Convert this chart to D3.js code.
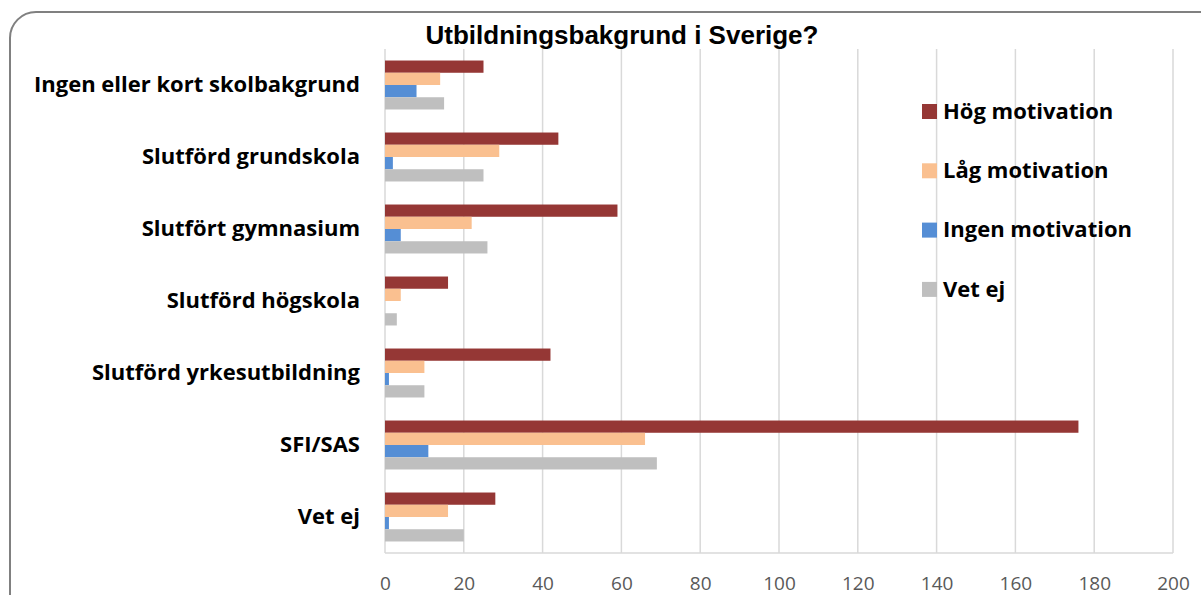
<!DOCTYPE html>
<html>
<head>
<meta charset="utf-8">
<script src="https://cdn.jsdelivr.net/npm/d3@7"></script>
<style>
  body { margin: 0; background: #fff; }
  svg { display: block; }
</style>
</head>
<body>
<div id="chart"></div>
<script>
var categories = ["Ingen eller kort skolbakgrund", "Slutförd grundskola", "Slutfört gymnasium",
  "Slutförd högskola", "Slutförd yrkesutbildning", "SFI/SAS", "Vet ej"];
var seriesNames = ["Hög motivation", "Låg motivation", "Ingen motivation", "Vet ej"];
var hog   = [25, 44, 59, 16, 42, 176, 28];
var lag   = [14, 29, 22, 4, 10, 66, 16];
var ingen = [8, 2, 4, 0, 1, 11, 1];
var vetej = [15, 25, 26, 3, 10, 69, 20];
var xTicks = [0, 20, 40, 60, 80, 100, 120, 140, 160, 180, 200];

var colors = ["#953735", "#FAC090", "#558ED5", "#BFBFBF"];
var series = [hog, lag, ingen, vetej];

var w = 1201, h = 595;
var svg = d3.select("#chart").append("svg").attr("width", w).attr("height", h);

// outer rounded frame (runs off the right/bottom edges)
svg.append("rect")
  .attr("x", 10).attr("y", 12)
  .attr("width", 1220).attr("height", 620)
  .attr("rx", 26).attr("ry", 26)
  .attr("fill", "none").attr("stroke", "#808080").attr("stroke-width", 2);

var x = d3.scaleLinear().domain([0, 200]).range([385, 1173]);
var y = d3.scaleBand().domain(categories).range([49, 553]).paddingInner(0.32).paddingOuter(0.16);
var ySub = d3.scaleBand().domain(seriesNames).range([0, y.bandwidth()]);

// gridlines
svg.append("g").selectAll("line")
  .data(xTicks)
  .enter().append("line")
  .attr("x1", function(d) { return x(d); })
  .attr("x2", function(d) { return x(d); })
  .attr("y1", 49).attr("y2", 553)
  .attr("stroke", "#d9d9d9").attr("stroke-width", 1.5);

svg.append("line")
  .attr("x1", x(0)).attr("x2", x(200))
  .attr("y1", 553).attr("y2", 553)
  .attr("stroke", "#d9d9d9").attr("stroke-width", 1.5);

// bars
series.forEach(function(vals, si) {
  svg.append("g").selectAll("rect")
    .data(vals)
    .enter().append("rect")
    .attr("x", x(0))
    .attr("y", function(d, i) { return y(categories[i]) + ySub(seriesNames[si]); })
    .attr("width", function(d) { return x(d) - x(0); })
    .attr("height", ySub.bandwidth())
    .attr("fill", colors[si]);
});

// x axis labels
var xAxis = d3.axisBottom(x).tickValues(xTicks).tickSize(0).tickPadding(0);
var gx = svg.append("g").attr("transform", "translate(0,576)").call(xAxis);
gx.select(".domain").remove();
gx.selectAll("text")
  .attr("font-family", "'Open Sans', sans-serif")
  .attr("font-size", "19px")
  .attr("fill", "#595959");

// category labels
var yAxis = d3.axisLeft(y).tickSize(0).tickPadding(25);
var gy = svg.append("g").attr("transform", "translate(" + x(0) + ",0)").call(yAxis);
gy.select(".domain").remove();
gy.selectAll("text")
  .attr("font-family", "'Open Sans', sans-serif")
  .attr("font-weight", "bold")
  .attr("font-size", "22px")
  .attr("fill", "#000");

// title
svg.append("text")
  .attr("x", 622).attr("y", 44)
  .attr("text-anchor", "middle")
  .attr("font-family", "'Liberation Sans', Arial, sans-serif")
  .attr("font-weight", "bold")
  .attr("font-size", "26px")
  .text("Utbildningsbakgrund i Sverige?");

// legend
var legend = svg.append("g").selectAll("g")
  .data(seriesNames)
  .enter().append("g")
  .attr("transform", function(d, i) { return "translate(922," + (111 + i * 59.3) + ")"; });
legend.append("rect")
  .attr("x", 0).attr("y", -7).attr("width", 15).attr("height", 15)
  .attr("fill", function(d, i) { return colors[i]; });
legend.append("text")
  .attr("x", 21).attr("y", 0).attr("dy", "0.35em")
  .attr("font-family", "'Open Sans', sans-serif")
  .attr("font-weight", "bold")
  .attr("font-size", "22px")
  .text(function(d) { return d; });
</script>
</body>
</html>
